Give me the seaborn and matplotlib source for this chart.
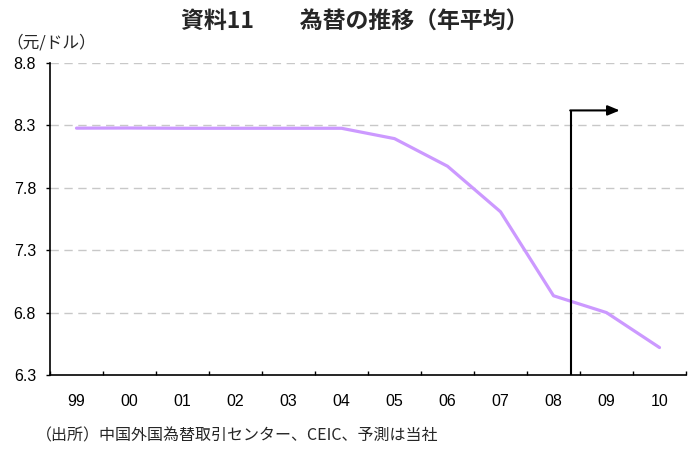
import matplotlib
matplotlib.use("Agg")
import matplotlib.pyplot as plt
import seaborn as sns
import pandas as pd
from matplotlib.ticker import FixedLocator

years = ["99", "00", "01", "02", "03", "04", "05", "06", "07", "08", "09", "10"]
rate = [8.278, 8.279, 8.277, 8.277, 8.277, 8.277, 8.194, 7.973, 7.608, 6.935, 6.80, 6.52]
yticks = [6.3, 6.8, 7.3, 7.8, 8.3, 8.8]
forecast_start = 9.33   # between 08 and 09
forecast_arrow_end = 10.25
forecast_top = 8.42

sns.set_theme(style="white")
plt.rcParams["font.family"] = ["Liberation Sans", "Noto Sans CJK JP", "DejaVu Sans"]
jp = ["Noto Sans CJK JP", "DejaVu Sans"]
num_font = dict(family="Liberation Sans", size=11.5)

df = pd.DataFrame({"pos": range(len(years)), "rate": rate})

fig = plt.figure(figsize=(6.97, 4.53), dpi=100)
ax = fig.add_axes([50 / 697, 78 / 453, 636 / 697, 312 / 453])

sns.lineplot(data=df, x="pos", y="rate", ax=ax, color="#CC99FF", linewidth=2.3)

ax.set_xlim(-0.5, len(years) - 0.5)
ax.set_ylim(6.3, 8.8)
ax.set_yticks(yticks)
ax.set_yticklabels([f"{v:.1f}" for v in yticks], fontdict=num_font)
ax.set_xticks(range(len(years)))
ax.set_xticklabels(years, fontdict=num_font)
ax.xaxis.set_minor_locator(FixedLocator([i + 0.5 for i in range(-1, len(years))]))
ax.tick_params(axis="x", which="major", length=0, pad=14, colors="black")
ax.tick_params(axis="x", which="minor", direction="in", length=3, width=1, color="black", bottom=True)
ax.tick_params(axis="y", which="major", direction="out", length=3, width=1, color="black", left=True, pad=7, colors="black")
ax.set_xlabel("")
ax.set_ylabel("")

for v in yticks[1:]:
    ax.axhline(v, color="#C8C8C8", linestyle=(0, (6, 4)), linewidth=1, zorder=0)

for s in ["top", "right"]:
    ax.spines[s].set_visible(False)
for s in ["left", "bottom"]:
    ax.spines[s].set_color("black")
    ax.spines[s].set_linewidth(1.2)

# forecast marker: vertical line with arrow pointing right
ax.plot([forecast_start, forecast_start], [6.3, forecast_top], color="black", linewidth=1.5,
        solid_capstyle="butt", zorder=4)
ax.annotate("", xy=(forecast_arrow_end, forecast_top), xytext=(forecast_start - 0.015, forecast_top),
            arrowprops=dict(arrowstyle="-|>,head_length=0.6,head_width=0.25", color="black", lw=1.5,
                            shrinkA=0, shrinkB=0), zorder=4)

fig.text(355 / 697, 1 - 22 / 453, "資料11　　為替の推移（年平均）", ha="center", va="center",
         fontsize=16.5, fontweight="bold", family=jp)
fig.text(6 / 697, 1 - 43 / 453, "（元/ドル）", ha="left", va="center", fontsize=12, family=jp)
fig.text(36 / 697, 1 - 436 / 453, "（出所）中国外国為替取引センター、CEIC、予測は当社", ha="left", va="center",
         fontsize=11.5, family=jp)

fig.savefig("out.png", dpi=100)
